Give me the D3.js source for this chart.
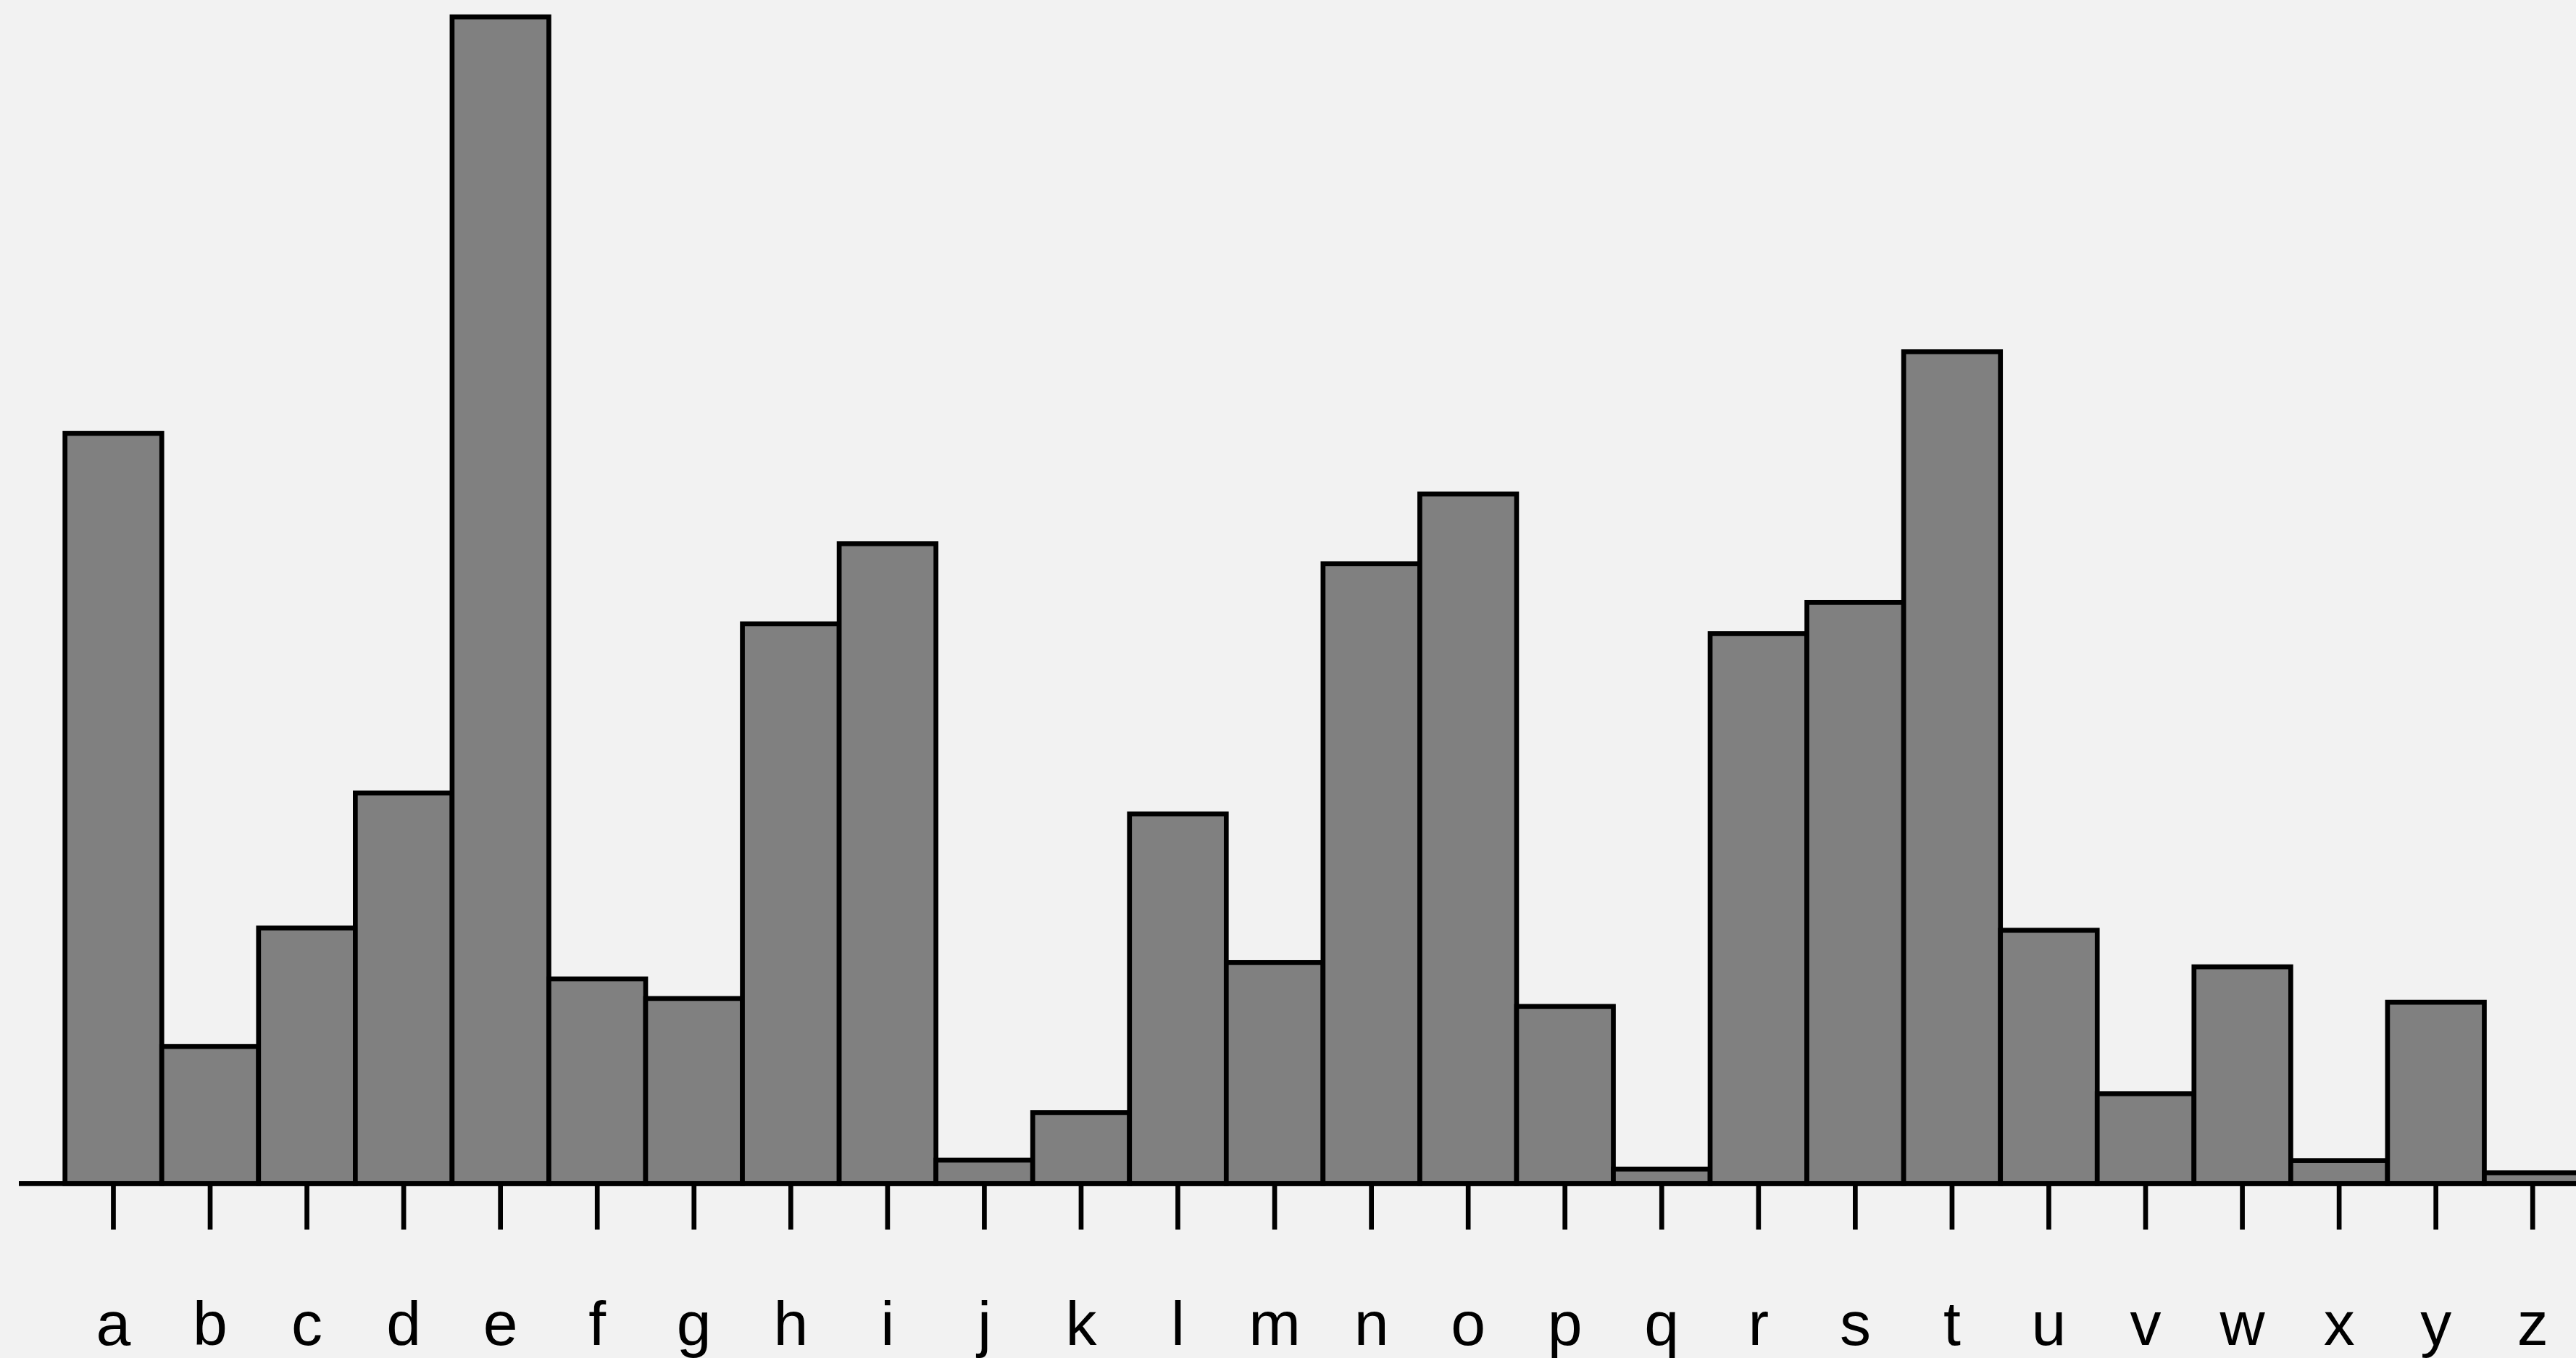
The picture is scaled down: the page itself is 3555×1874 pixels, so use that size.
<!DOCTYPE html>
<html>
<head>
<meta charset="utf-8">
<script src="https://cdn.jsdelivr.net/npm/d3@7"></script>
<style>
  html, body { margin: 0; padding: 0; background: #f2f2f2; overflow: hidden; }
  svg { display: block; }
</style>
</head>
<body>
<script>
const letters = ["a","b","c","d","e","f","g","h","i","j","k","l","m","n","o","p","q","r","s","t","u","v","w","x","y","z"];
const frequency = [0.08167, 0.01492, 0.02782, 0.04253, 0.12702, 0.02228, 0.02015, 0.06094, 0.06966, 0.00255,
                   0.00772, 0.04025, 0.02406, 0.06749, 0.07507, 0.01929, 0.00158, 0.05987, 0.06327, 0.09056,
                   0.02758, 0.00978, 0.02360, 0.00250, 0.01974, 0.00117];

const W = 3555, H = 1874;
const baseY = 1633.3, topY = 23.3;
const x0 = 89.7, step = 133.55;

const svg = d3.select("body").append("svg").attr("width", W).attr("height", H);
svg.append("rect").attr("width", W).attr("height", H).attr("fill", "#f2f2f2");

const x = d3.scaleBand().domain(letters).range([x0, x0 + step * letters.length]).paddingInner(0).paddingOuter(0);
const y = d3.scaleLinear().domain([0, d3.max(frequency)]).range([baseY, topY]);

const data = letters.map((l, i) => ({ letter: l, value: frequency[i] }));

svg.append("g").selectAll("rect").data(data).join("rect")
  .attr("x", d => x(d.letter))
  .attr("y", d => y(d.value))
  .attr("width", x.bandwidth())
  .attr("height", d => y(0) - y(d.value))
  .attr("fill", "#808080")
  .attr("stroke", "#000")
  .attr("stroke-width", 6.7);

// baseline
svg.append("line")
  .attr("x1", 26).attr("x2", W)
  .attr("y1", y(0)).attr("y2", y(0))
  .attr("stroke", "#000").attr("stroke-width", 6.7);

const axis = d3.axisBottom(x).tickSize(63.4).tickSizeOuter(0);
const gAxis = svg.append("g").attr("transform", `translate(0,${y(0)})`).call(axis);
gAxis.select(".domain").remove();
gAxis.selectAll(".tick line").attr("stroke", "#000").attr("stroke-width", 6.7);
gAxis.selectAll(".tick text")
  .attr("y", 222.7).attr("dy", 0)
  .attr("fill", "#000")
  .style("font-family", "'Liberation Sans', Arial, sans-serif")
  .style("font-size", "86px");
</script>
</body>
</html>
